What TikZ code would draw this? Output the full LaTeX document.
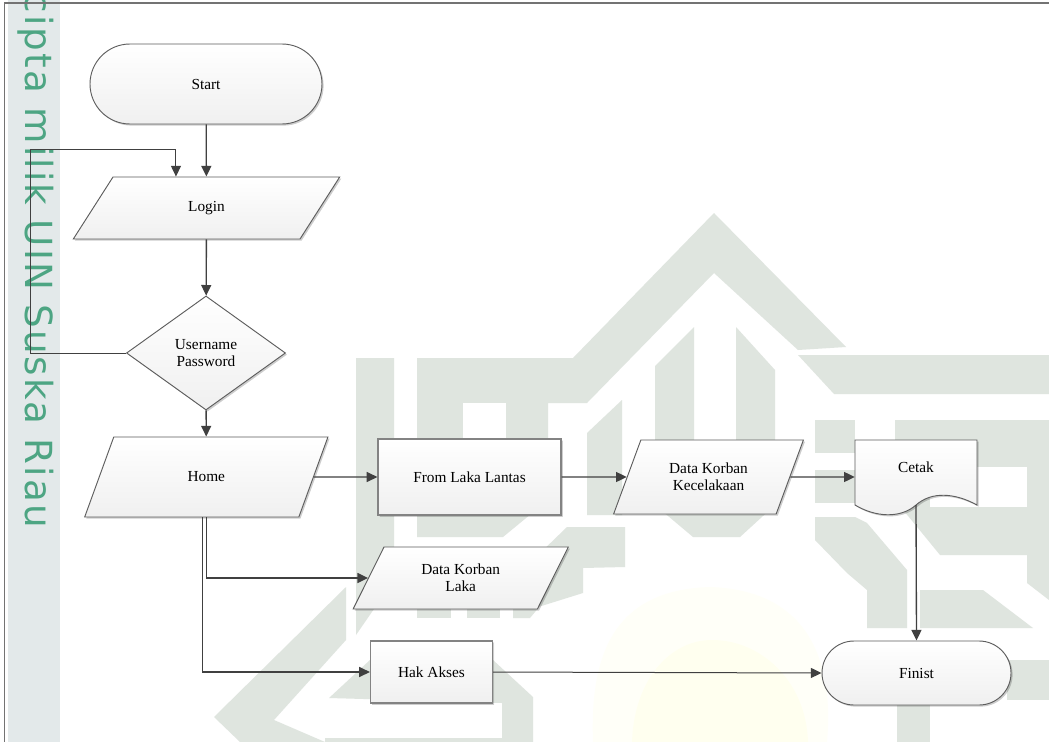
\documentclass[tikz,border=0pt]{standalone}
\usepackage{fontspec}
\setmainfont{Liberation Serif}
\newfontfamily\wmfont[LetterSpace=6]{DejaVu Sans}
\usetikzlibrary{arrows.meta,shapes.geometric,shapes.misc,shadows}
\definecolor{wm}{HTML}{DFE5DF}
\definecolor{strip}{HTML}{E3E9EA}
\definecolor{wmtext}{HTML}{4DA583}
\definecolor{ink}{HTML}{404040}
\definecolor{yel}{HTML}{FFFFF8}
\definecolor{yelb}{HTML}{FFFFEF}
\tikzset{
  x=0.75pt,y=-0.75pt,
  boxbase/.style={draw=ink!85,line width=0.7pt,top color=white,bottom color=black!6,
    copy shadow={shadow xshift=1.2pt,shadow yshift=-1.2pt,draw=none,fill=black,top color=black,bottom color=black,opacity=0.1},
    font=\fontsize{11.5}{12.5}\selectfont,align=center,inner sep=0pt,text=black},
  terminal/.style={boxbase,rounded rectangle},
  para/.style={boxbase,trapezium,trapezium left angle=60,trapezium right angle=120,trapezium stretches=true},
  procbox/.style={boxbase,rectangle,line width=0.9pt,draw=ink!65},
  decision/.style={boxbase,diamond,aspect=1.39},
  flow/.style={draw=ink,line width=1pt,-{Triangle[width=7.5pt,length=8pt]}},
  thinflow/.style={flow,line width=0.75pt},
  wmshape/.style={fill=wm,draw=none},
  txtonly/.style={font=\fontsize{11.5}{12.5}\selectfont,align=center,inner sep=0pt,text=black},
}
\begin{document}
\begin{tikzpicture}
\useasboundingbox (0,0) rectangle (1049,742);
\fill[white] (0,0) rectangle (1049,742);
% watermark
\fill[strip] (8,0) rectangle (60,742);
\fill[yel] (593,742) .. controls (590,660) and (610,590) .. (710,587) .. controls (800,590) and (835,650) .. (827,742) -- cycle;
\fill[yelb] (632,742) .. controls (634,680) and (670,640) .. (712,640) .. controls (760,640) and (806,680) .. (808,742) -- cycle;
\path[wmshape] (356,358) -- (394,358) -- (394,580) -- (356,635) -- cycle;
\path[wmshape] (417,358) -- (573,358) -- (714,213) -- (846,347) -- (798,350) -- (714,273) -- (587,403) -- (548,403) -- (548,500) -- (503,537) -- (417,537) -- cycle;
\fill[white] (463,403) rectangle (506,515);
\path[wmshape] (655,366) -- (694,327) -- (694,470) -- (736,470) -- (736,327) -- (775,370) -- (775,505) -- (740,537) -- (693,537) -- (655,505) -- cycle;
\path[wmshape] (622,400) -- (587,433) -- (587,515) -- (622,515) -- cycle;
\path[wmshape] (625,527) -- (567,527) -- (535,558) -- (535,608) -- (583,593) -- (583,568) -- (625,567) -- cycle;
\path[wmshape] (417,600) rectangle (451,618);
\path[wmshape] (467,600) rectangle (500,618);
\path[wmshape] (513,600) -- (513,618) -- (530,618) -- (545,600) -- cycle;
\path[wmshape] (346,587) -- (214,717) -- (240,742) -- (325,742) -- (274,720) -- (346,640) -- cycle;
\path[wmshape] (329,698) -- (370,660) -- (493,660) -- (533,697) -- (533,742) -- (502,742) -- (502,703) -- cycle;
\path[wmshape] (325,738) rectangle (533,742);
\path[wmshape] (798,355) -- (1049,355) -- (1049,394) -- (834,394) -- cycle;
\path[wmshape] (815,420) rectangle (855,453);
\path[wmshape] (815,470) rectangle (855,503);
\path[wmshape] (815,517) -- (855,517) -- (867,523) -- (907,570) -- (907,628) -- (867,628) -- (867,590) -- (847,573) -- (815,540) -- cycle;
\path[wmshape] (895,420) -- (1049,420) -- (1049,600) -- (1027,583) -- (1027,555) -- (940,555) -- (895,500) -- cycle;
\fill[white] (930,467) rectangle (1027,507);
\path[wmshape] (920,590) -- (983,590) -- (1033,628) -- (920,628) -- cycle;
\path[wmshape] (1007,660) rectangle (1049,700);
\path[wmshape] (897,700) rectangle (930,742);
\node[rotate=-90,anchor=west,inner sep=0pt,text=wmtext,font=\wmfont\fontsize{28}{28}\selectfont] (wmlabel) at (36,-8) {cipta milik UIN Suska Riau};
% frame
\draw[draw=black!55,line width=0.8pt] (4.5,742) -- (4.5,3) -- (1049,3);
% nodes
\node[terminal,minimum width=232*0.75pt,minimum height=80*0.75pt] (start) at (206,84) {Start};
\node[para,minimum width=267*0.75pt,minimum height=62*0.75pt] (login) at (206.5,208) {Login};
\node[decision,minimum width=159*0.75pt,minimum height=114*0.75pt] (user) at (206,353) {Username\\Password};
\node[para,minimum width=244*0.75pt,minimum height=80*0.75pt] (home) at (206.3,477) {Home};
\node[procbox,minimum width=183*0.75pt,minimum height=76*0.75pt] (form) at (469.5,477) {From Laka Lantas};
\node[para,minimum width=191*0.75pt,minimum height=74*0.75pt] (dkk) at (708.5,477) {Data Korban\\Kecelakaan};
\node[para,minimum width=216.5*0.75pt,minimum height=62*0.75pt] (dkl) at (460.7,578) {Data Korban\\Laka};
\node[procbox,minimum width=122*0.75pt,minimum height=62*0.75pt] (hak) at (431.5,672) {Hak Akses};
\node[terminal,minimum width=189*0.75pt,minimum height=64*0.75pt] (finist) at (916.5,673) {Finist};
% document shape
\path[boxbase] (855,440) -- (977,440) -- (977,505) .. controls (955,493) and (932,491) .. (916,505) .. controls (900,519) and (875,517) .. (855,505) -- cycle;
\node[inner sep=0pt,minimum width=122*0.75pt,minimum height=74*0.75pt] (cetak) at (916,477) {};
\node[txtonly] (cetaklbl) at (916,467.5) {Cetak};
\coordinate (cetakbot) at (916,505);
\coordinate (fbcorner) at (30,149);
% connectors
\draw[flow] (start) -- (login);
\draw[flow] (login) -- (user);
\draw[flow] (user) -- (home);
\draw[thinflow] (user.west) -| (fbcorner) -| ([xshift=-22.9pt]login.north);
\draw[flow] (home.east) -- (form.west);
\draw[flow] (form.east) -- (dkk.west);
\draw[flow] (dkk.east) -- (cetak.west);
\draw[flow] (home.south) |- (dkl.west);
\draw[flow] ([xshift=-3pt]home.south) |- (hak.west);
\draw[thinflow] (hak.east) -- (finist.west);
\draw[flow] (cetakbot) -- (finist.north);
\end{tikzpicture}
\end{document}
